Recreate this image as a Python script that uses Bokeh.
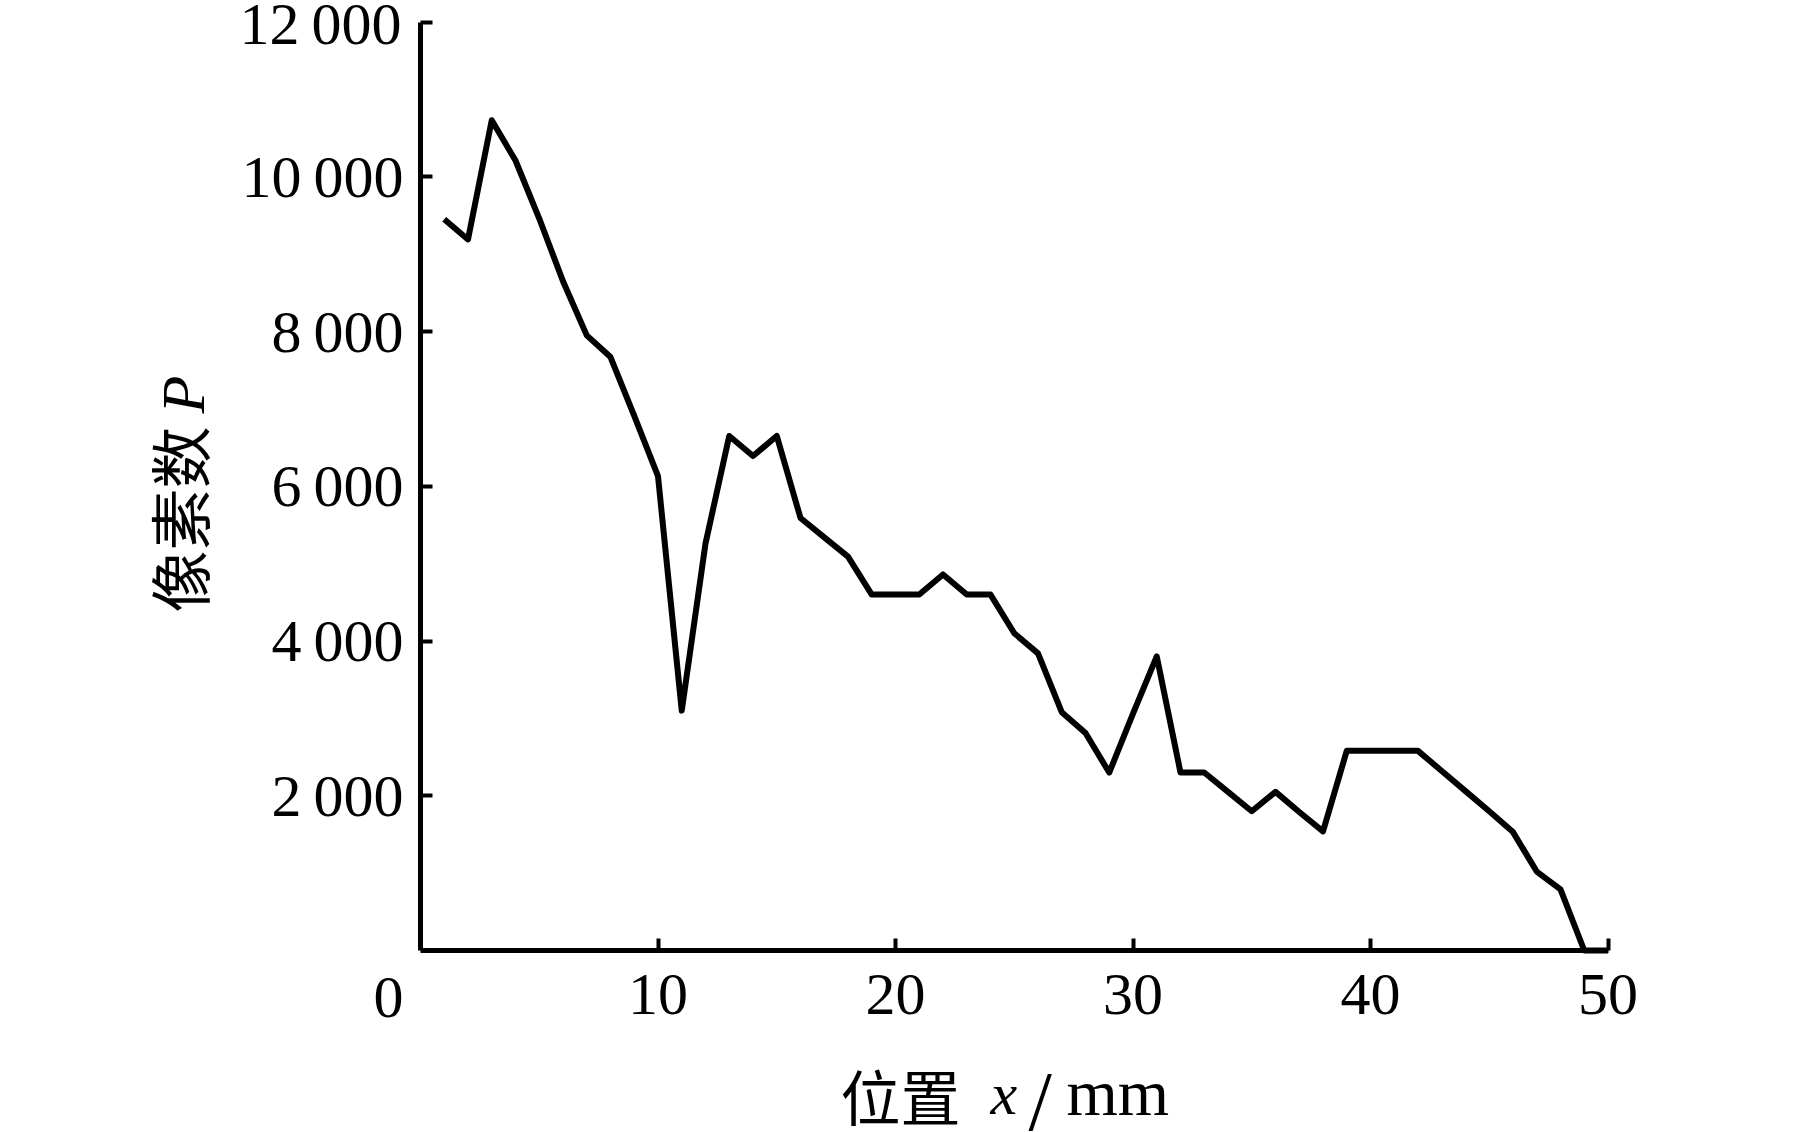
import math
from bokeh.plotting import figure
from bokeh.models import Range1d, FixedTicker, Label
from bokeh.embed import file_html
from bokeh.resources import INLINE

# ---- data ----
positions = list(range(1, 51))  # x / mm
pixel_counts = [9450, 9190, 10730, 10210, 9460, 8650, 7950, 7670, 6910, 6130,
                3100, 5260, 6650, 6390, 6650, 5590, 5340, 5090, 4600, 4600,
                4600, 4860, 4600, 4600, 4100, 3840, 3080, 2810, 2300, 3060,
                3800, 2300, 2300, 2050, 1800, 2050, 1790, 1540, 2580, 2580,
                2580, 2580, 2320, 2060, 1800, 1530, 1020, 790, 0, 0]
x_ticks = [10, 20, 30, 40, 50]
x_tick_labels = ["10", "20", "30", "40", "50"]
y_ticks = [2000, 4000, 6000, 8000, 10000, 12000]
y_tick_labels = ["2\u2009000", "4\u2009000", "6\u2009000", "8\u2009000",
                 "10\u2009000", "12\u2009000"]
x_axis_span = (0, 50)
y_axis_span = (0, 12000)
origin_label = "0"
x_label_cn = "位置"
x_label_var = "x"
x_label_unit = "mm"
y_label_cn = "像素数"
y_label_var = "P"

SERIF = "Liberation Serif"
CJK = "Noto Sans CJK SC"

# ---- layout: the frame covers the whole canvas, axes sit at fixed locations ----
W, H = 1812, 1132
AX_LEFT, AX_RIGHT = 420.0, 1607.5     # canvas px of x = 0 and x = 50
AX_BOTTOM, AX_TOP = 950.0, 21.5       # canvas px of y = 0 and y = 12000
sx = (AX_RIGHT - AX_LEFT) / (x_axis_span[1] - x_axis_span[0])
sy = (AX_BOTTOM - AX_TOP) / (y_axis_span[1] - y_axis_span[0])
x_start = x_axis_span[0] - AX_LEFT / sx
x_end = x_start + W / sx
y_start = y_axis_span[0] - (H - AX_BOTTOM) / sy
y_end = y_start + H / sy


def to_data(px, py):
    return x_start + px / sx, y_end - py / sy


p = figure(width=W, height=H, output_backend="svg", toolbar_location=None,
           x_range=Range1d(x_start, x_end), y_range=Range1d(y_start, y_end),
           min_border=0, min_border_left=0, min_border_right=0,
           min_border_top=0, min_border_bottom=0, title=None)
p.outline_line_color = None
p.grid.visible = False
p.background_fill_color = "white"
p.border_fill_color = "white"

p.line(positions, pixel_counts, line_width=6, line_color="black", line_join="round")

xa = p.xaxis[0]
ya = p.yaxis[0]
xa.fixed_location = 0
ya.fixed_location = 0
xa.bounds = x_axis_span
ya.bounds = y_axis_span
xa.ticker = FixedTicker(ticks=x_ticks)
xa.major_label_overrides = {t: s for t, s in zip(x_ticks, x_tick_labels)}
ya.ticker = FixedTicker(ticks=y_ticks)
# the top tick label is drawn as a Label below so that it is not nudged off the canvas edge
ya.major_label_overrides = {t: (s if t != y_ticks[-1] else "")
                            for t, s in zip(y_ticks, y_tick_labels)}
for ax in (xa, ya):
    ax.axis_line_width = 5
    ax.axis_line_color = "black"
    ax.major_tick_in = 12
    ax.major_tick_out = 0
    ax.major_tick_line_width = 4
    ax.minor_tick_line_color = None
    ax.major_label_text_font = SERIF
    ax.major_label_text_font_size = "60px"
    ax.major_label_text_color = "black"
xa.major_label_standoff = 24
ya.major_label_standoff = 17


def add_text(px, py, text, font, size, style="normal", angle=0.0, align="left"):
    # px, py: canvas pixel position (from top-left) of the text anchor (vertical middle)
    x, y = to_data(px, py)
    p.add_layout(Label(x=x, y=y, text=text, angle=angle, text_font=font,
                       text_font_size=size, text_font_style=style, text_align=align,
                       text_baseline="middle", text_color="black"))


# top y tick label
p.add_layout(Label(x=x_axis_span[0], y=y_ticks[-1], x_offset=-19, y_offset=-2,
                   text=y_tick_labels[-1],
                   text_font=SERIF, text_font_size="60px", text_align="right",
                   text_baseline="middle", text_color="black"))

# origin "0" label (shared corner label)
add_text(388, 997, origin_label, SERIF, "60px", align="center")

# x axis title: 位置 x / mm
add_text(840, 1094, x_label_cn, CJK, "60px")
add_text(990, 1093, x_label_var, SERIF, "60px", style="italic")
add_text(1028, 1101, "/", SERIF, "84px")
add_text(1066, 1092, x_label_unit, SERIF, "66px")

# y axis title: 像素数 P (rotated, reading upward)
add_text(177, 612, y_label_cn, CJK, "62px", angle=math.pi / 2)
add_text(182, 413, y_label_var, SERIF, "62px", style="italic", angle=math.pi / 2)

open("out.html", "w").write(file_html(p, INLINE))
